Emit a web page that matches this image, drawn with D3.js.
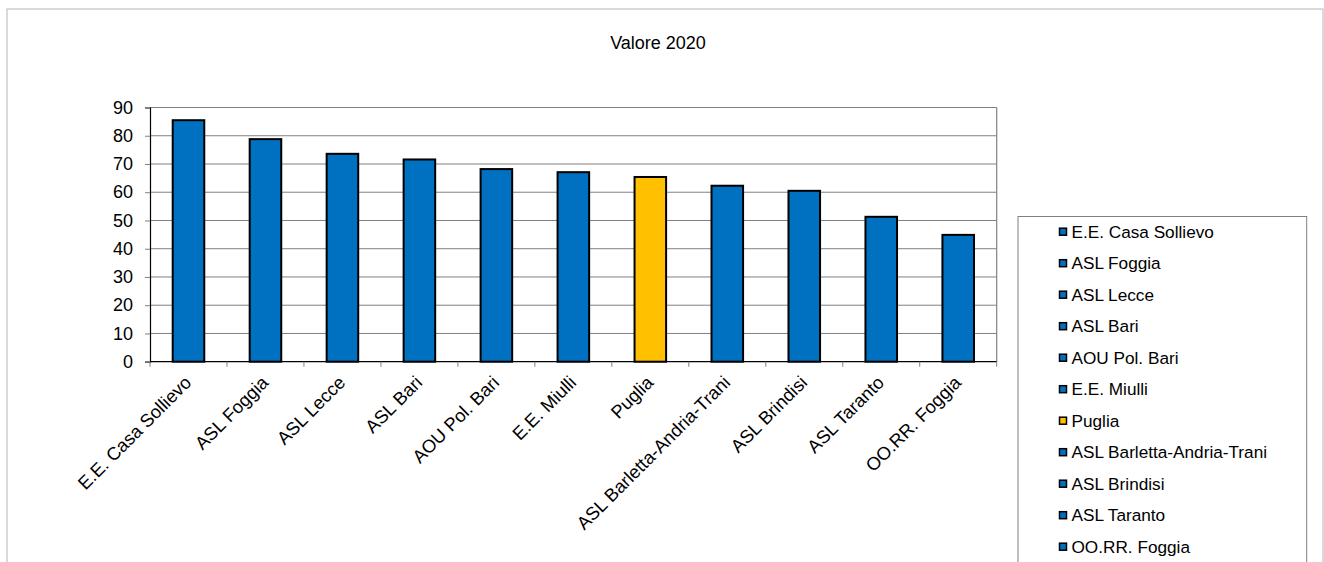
<!DOCTYPE html>
<html>
<head>
<meta charset="utf-8">
<script src="https://cdn.jsdelivr.net/npm/d3@7"></script>
<style>
  html, body { margin: 0; padding: 0; background: #fff; }
  svg { display: block; font-family: "Liberation Sans", Arial, sans-serif; }
</style>
</head>
<body>
<svg id="chart" width="1324" height="562"></svg>
<script>
const categories = ["E.E. Casa Sollievo", "ASL Foggia", "ASL Lecce", "ASL Bari", "AOU Pol. Bari", "E.E. Miulli", "Puglia", "ASL Barletta-Andria-Trani", "ASL Brindisi", "ASL Taranto", "OO.RR. Foggia"];
const values = [85.5, 78.8, 73.6, 71.6, 68.2, 67.1, 65.4, 62.3, 60.5, 51.3, 44.9];
const highlight = ["Puglia"];
const yTicks = [0, 10, 20, 30, 40, 50, 60, 70, 80, 90];
const title = "Valore 2020";

const blue = "#0070C0", gold = "#FFC000";
const colorOf = c => highlight.includes(c) ? gold : blue;

const svg = d3.select("#chart");

// outer frame
svg.append("rect").attr("x", 7).attr("y", 9).attr("width", 1316).attr("height", 600)
  .attr("fill", "none").attr("stroke", "#b4b4b4").attr("stroke-width", 1);

// title
svg.append("text").attr("x", 658).attr("y", 49).attr("text-anchor", "middle")
  .attr("font-size", 18).attr("fill", "#000").text(title);

const plot = { left: 150, right: 996.7, top: 107.5, bottom: 361.7 };

const x = d3.scaleBand().domain(categories).range([plot.left, plot.right]).paddingInner(0.59).paddingOuter(0.295);
const y = d3.scaleLinear().domain([0, 90]).range([plot.bottom, plot.top]);

// gridlines
svg.append("g").selectAll("line").data(yTicks.filter(t => t > 0)).join("line")
  .attr("x1", plot.left).attr("x2", plot.right)
  .attr("y1", d => y(d)).attr("y2", d => y(d))
  .attr("stroke", "#808080").attr("stroke-width", 1);

// right border
svg.append("line").attr("x1", plot.right).attr("x2", plot.right).attr("y1", plot.top).attr("y2", plot.bottom)
  .attr("stroke", "#808080").attr("stroke-width", 1.2);

// bars
svg.append("g").selectAll("rect").data(categories).join("rect")
  .attr("x", d => x(d)).attr("width", x.bandwidth())
  .attr("y", (d, i) => y(values[i])).attr("height", (d, i) => y(0) - y(values[i]))
  .attr("fill", d => colorOf(d)).attr("stroke", "#000").attr("stroke-width", 2);

// y axis
const yAxis = d3.axisLeft(y).tickValues(yTicks).tickSize(5).tickPadding(12);
const gy = svg.append("g").attr("transform", `translate(${plot.left},0)`).call(yAxis);
gy.select(".domain").attr("stroke", "#000").attr("stroke-width", 1.2);
gy.selectAll(".tick line").attr("stroke", "#808080");
gy.selectAll(".tick text").attr("font-size", 18).attr("fill", "#000")
  .attr("font-family", "Liberation Sans, Arial, sans-serif");

// x axis line and ticks at band boundaries
const bounds = d3.range(categories.length + 1).map(i => plot.left + i * (plot.right - plot.left) / categories.length);
svg.append("line").attr("x1", plot.left).attr("x2", plot.right).attr("y1", plot.bottom).attr("y2", plot.bottom)
  .attr("stroke", "#000").attr("stroke-width", 1.2);
svg.append("g").selectAll("line").data(bounds).join("line")
  .attr("x1", d => d).attr("x2", d => d).attr("y1", plot.bottom).attr("y2", plot.bottom + 5)
  .attr("stroke", "#808080");

// category labels
svg.append("g").selectAll("text").data(categories).join("text")
  .attr("transform", d => `translate(${x(d) + x.bandwidth() / 2 + 4},${plot.bottom + 22}) rotate(-45)`)
  .attr("text-anchor", "end").attr("font-size", 18.3).attr("fill", "#000").text(d => d);

// legend
const lg = { x: 1018, y: 216.5, w: 288.7, h: 400 };
svg.append("rect").attr("x", lg.x).attr("y", lg.y).attr("width", lg.w).attr("height", lg.h)
  .attr("fill", "#fff").attr("stroke", "#808080").attr("stroke-width", 1);
const rowY = d3.scalePoint().domain(categories).range([231.7, 546.7]);
const items = svg.append("g").selectAll("g").data(categories).join("g")
  .attr("transform", d => `translate(1059,${rowY(d)})`);
items.append("rect").attr("x", 0.5).attr("y", -3.5).attr("width", 7).attr("height", 7)
  .attr("fill", d => colorOf(d)).attr("stroke", "#000").attr("stroke-width", 1.5);
items.append("text").attr("x", 12.5).attr("dy", "0.36em").attr("font-size", 17.2).attr("fill", "#000").text(d => d);
</script>
</body>
</html>
